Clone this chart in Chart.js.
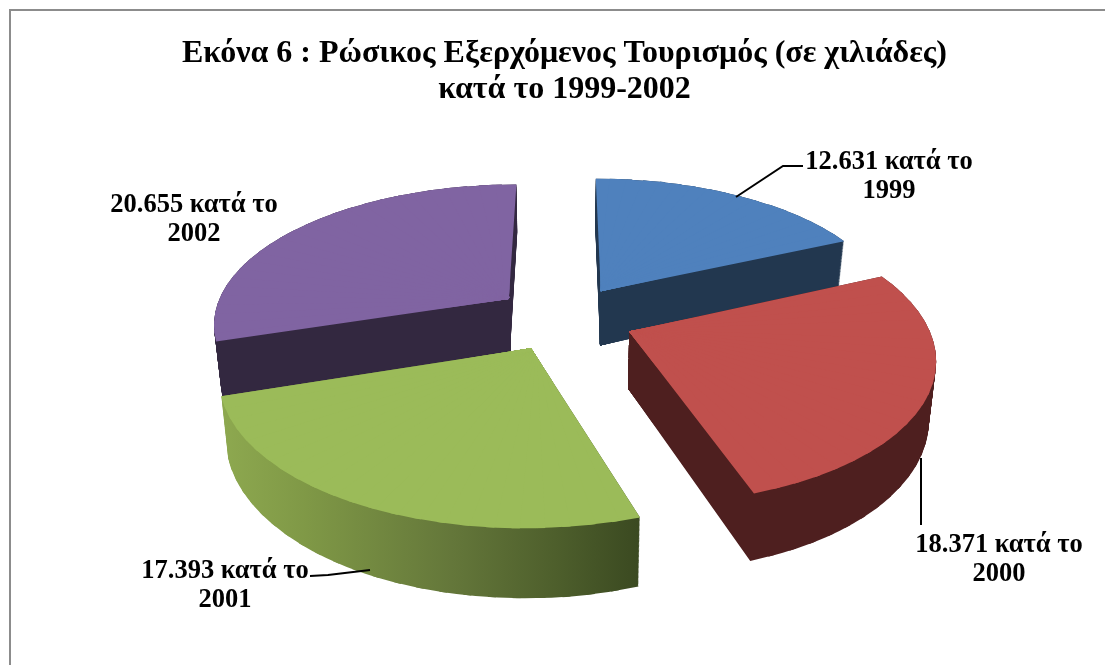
<!DOCTYPE html>
<html lang="el">
<head>
<meta charset="utf-8">
<title>Ρώσικος Εξερχόμενος Τουρισμός</title>
<style>html,body{margin:0;padding:0;background:#fff;overflow:hidden}canvas{display:block}</style>
<script src="https://cdn.jsdelivr.net/npm/chart.js@4/dist/chart.umd.min.js"></script>
</head>
<body>
<canvas id="c" width="1105" height="665"></canvas>
<script>
// Data
const categories = ['1999', '2000', '2001', '2002'];
const values = [12631, 18371, 17393, 20655];
const titleLines = ['Εκόνα 6 : Ρώσικος Εξερχόμενος Τουρισμός (σε χιλιάδες)', 'κατά το 1999-2002'];
const labelSuffix = 'κατά το';

// Styles
const topColors = ['#4F81BD', '#C0504D', '#9BBB59', '#8064A2'];
const wallColors = [
  [[0, '#22374F'], [1, '#22374F']],
  [[0, '#4E1F1F'], [1, '#4E1F1F']],
  [[0, '#8DA84F'], [0.2, '#7F9846'], [0.55, '#64773A'], [0.8, '#4E5F2C'], [1, '#3B4A21']],
  [[0, '#332840'], [1, '#332840']]
];
const SERIF = '"Liberation Serif","Times New Roman",serif';

// Layout: 3-D camera for the exploded pie
const camera = { cx: 564, cy: 318, radius: 296, explode: 70, tilt: 0.47, distance: 1800, depth: 56, converge: 0.00035 };
const wallGradientX = [225, 637];
const labelCenters = [[889, 162], [999, 545], [225, 571], [194, 205]];
const labelLineGap = 29;
const leaders = [
  [[736, 197], [783, 166], [803, 166]],
  [[921, 458], [921, 525]],
  [[310, 576], [328, 575], [370, 570]],
  []
];
const WEDGE_STEP = Math.PI / 45;
const WEDGE_OVERLAP = Math.PI / 360;
const WEDGE_BLEED = 4;

function project(X, Y, z) {
  const p = camera.distance / (camera.distance + Y);
  return [camera.cx + X * p * (1 - camera.converge * z), camera.cy - Y * camera.tilt * p + z * p];
}
function frameFor(el, z, a0, a1) {
  const mid = (el.startAngle + el.endAngle) / 2;
  const r = el.outerRadius, R = camera.radius, E = camera.explode;
  const ex = Math.cos(mid) * E, ey = -Math.sin(mid) * E;
  const apex = project(ex, ey, z);
  const v0 = project(ex + R * Math.cos(a0), ey - R * Math.sin(a0), z);
  const v1 = project(ex + R * Math.cos(a1), ey - R * Math.sin(a1), z);
  const ux0 = r * Math.cos(a0), uy0 = r * Math.sin(a0), ux1 = r * Math.cos(a1), uy1 = r * Math.sin(a1);
  const vx0 = v0[0] - apex[0], vy0 = v0[1] - apex[1], vx1 = v1[0] - apex[0], vy1 = v1[1] - apex[1];
  const det = ux0 * uy1 - ux1 * uy0;
  const a = (vx0 * uy1 - vx1 * uy0) / det, c = (vx1 * ux0 - vx0 * ux1) / det;
  const b = (vy0 * uy1 - vy1 * uy0) / det, d = (vy1 * ux0 - vy0 * ux1) / det;
  return [a, b, c, d, apex[0] - a * el.x - c * el.y, apex[1] - b * el.x - d * el.y];
}
// The element is drawn wedge by wedge, each under its own affine frame, so its rim follows the perspective.
function drawProjected(target, el, z) {
  const span = el.endAngle - el.startAngle;
  const n = Math.ceil(span / WEDGE_STEP);
  for (let k = 0; k < n; k++) {
    const a0 = el.startAngle + span * k / n, a1 = el.startAngle + span * (k + 1) / n;
    target.save();
    target.setTransform(...frameFor(el, z, a0, a1));
    const rr = el.outerRadius * 1.2, c0 = a0 - WEDGE_OVERLAP, c1 = a1 + WEDGE_OVERLAP;
    const am = (a0 + a1) / 2, dx = Math.cos(am), dy = Math.sin(am), w = WEDGE_BLEED;
    target.beginPath();
    target.moveTo(el.x - w * dx + w * dy, el.y - w * dy - w * dx);
    target.lineTo(el.x + rr * Math.cos(c0), el.y + rr * Math.sin(c0));
    target.lineTo(el.x + rr * Math.cos(c1), el.y + rr * Math.sin(c1));
    target.lineTo(el.x - w * dx - w * dy, el.y - w * dy + w * dx);
    target.closePath();
    target.clip();
    el.draw(target);
    target.restore();
  }
}
function backY(el) { const m = (el.startAngle + el.endAngle) / 2; return -Math.sin(m); }

const framePlugin = {
  id: 'frame',
  beforeDraw(chart) {
    const ctx = chart.ctx;
    ctx.save();
    ctx.strokeStyle = '#8C8C8C';
    ctx.lineWidth = 2;
    ctx.beginPath();
    ctx.moveTo(10, chart.height);
    ctx.lineTo(10, 10);
    ctx.lineTo(chart.width, 10);
    ctx.stroke();
    ctx.restore();
  }
};

const pie3dPlugin = {
  id: 'pie3d',
  beforeDatasetsDraw(chart) {
    const ctx = chart.ctx;
    const arcs = chart.getDatasetMeta(0).data.map((el, i) => ({ el, i }));
    arcs.sort((p, q) => backY(q.el) - backY(p.el));
    for (const { el, i } of arcs) {
      const off = document.createElement('canvas');
      off.width = chart.width; off.height = chart.height;
      const o = off.getContext('2d');
      for (let z = camera.depth; z >= 0; z -= 1) drawProjected(o, el, z);
      o.setTransform(1, 0, 0, 1, 0, 0);
      o.globalCompositeOperation = 'source-in';
      const g = o.createLinearGradient(wallGradientX[0], 0, wallGradientX[1], 0);
      wallColors[i].forEach(s => g.addColorStop(s[0], s[1]));
      o.fillStyle = g;
      o.fillRect(0, 0, off.width, off.height);
      ctx.drawImage(off, 0, 0);
      drawProjected(ctx, el, 0);
    }
    return false;
  },
  afterDraw(chart) {
    const ctx = chart.ctx;
    ctx.save();
    ctx.strokeStyle = '#000';
    ctx.lineWidth = 2;
    leaders.forEach(l => {
      if (!l.length) return;
      ctx.beginPath();
      l.forEach((p, k) => k ? ctx.lineTo(p[0], p[1]) : ctx.moveTo(p[0], p[1]));
      ctx.stroke();
    });
    ctx.fillStyle = '#000';
    ctx.font = 'bold 26.5px ' + SERIF;
    ctx.textAlign = 'center';
    ctx.textBaseline = 'middle';
    values.forEach((v, i) => {
      const s = String(v).replace(/(\d)(\d{3})$/, '$1.$2');
      ctx.fillText(s + ' ' + labelSuffix, labelCenters[i][0], labelCenters[i][1]);
      ctx.fillText(categories[i], labelCenters[i][0], labelCenters[i][1] + labelLineGap);
    });
    ctx.restore();
  }
};

new Chart(document.getElementById('c'), {
  type: 'pie',
  data: {
    labels: categories,
    datasets: [{ data: values, backgroundColor: topColors, borderWidth: 0 }]
  },
  plugins: [framePlugin, pie3dPlugin],
  options: {
    responsive: false,
    animation: false,
    devicePixelRatio: 1,
    layout: { padding: { left: 24 } },
    plugins: {
      legend: { display: false },
      tooltip: { enabled: false },
      title: {
        display: true,
        text: titleLines,
        color: '#000',
        font: { family: SERIF, size: 32, weight: 'bold', lineHeight: 1.125 },
        padding: { top: 36, bottom: 10 }
      }
    }
  }
});
</script>
</body>
</html>
